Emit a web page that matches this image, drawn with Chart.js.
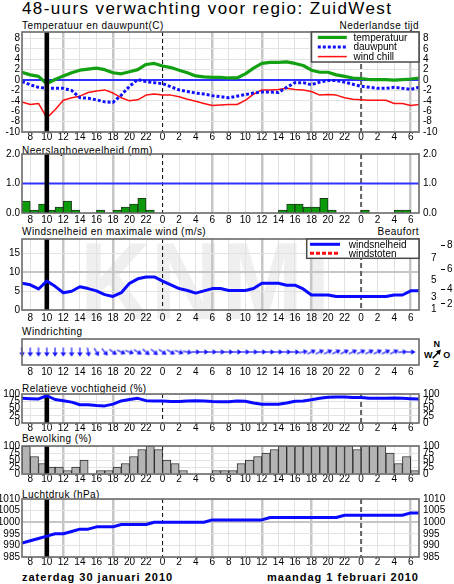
<!DOCTYPE html>
<html>
<head>
<meta charset="utf-8">
<script src="https://cdn.jsdelivr.net/npm/chart.js@4.4.1/dist/chart.umd.min.js"></script>
<style>
  html, body { margin:0; padding:0; background:#fff; }
  body { position:relative; width:454px; height:584px; overflow:hidden; font-family:"Liberation Sans", Arial, sans-serif; color:#000; }
  .lbl { position:absolute; white-space:nowrap; font-size:10px; line-height:10px; letter-spacing:0.45px; }
  .big { font-size:17px; line-height:18px; letter-spacing:1.4px; }
  .date { font-size:11px; line-height:11px; font-weight:bold; letter-spacing:1px; }
  .cmp { position:absolute; width:10px; text-align:center; font-size:9px; line-height:9px; font-weight:bold; }
  #wm { position:absolute; left:80px; top:226px; font:bold 110px "Liberation Sans", Arial, sans-serif; line-height:1; color:#efefef; transform:scaleX(0.89); transform-origin:0 0; white-space:nowrap; }
</style>
</head>
<body>
<div id="wm">KNMI</div>
<div class="lbl big" style="left:22px;top:0px;">48-uurs verwachting voor regio: ZuidWest</div>
<div class="lbl" style="left:22px;top:20.5px;">Temperatuur en dauwpunt(C)</div>
<div class="lbl" style="right:35px;top:20.5px;">Nederlandse tijd</div>
<div class="lbl" style="left:22px;top:146px;">Neerslaghoeveelheid (mm)</div>
<div class="lbl" style="left:22px;top:227px;">Windsnelheid en maximale wind (m/s)</div>
<div class="lbl" style="right:35px;top:227px;">Beaufort</div>
<div class="lbl" style="left:22px;top:326.5px;">Windrichting</div>
<div class="lbl" style="left:22px;top:384px;">Relatieve vochtigheid (%)</div>
<div class="lbl" style="left:22px;top:434px;">Bewolking (%)</div>
<div class="lbl" style="left:22px;top:490px;">Luchtdruk (hPa)</div>
<div class="lbl date" style="left:22px;top:571.5px;">zaterdag 30 januari 2010</div>
<div class="lbl date" style="right:35px;top:571.5px;">maandag 1 februari 2010</div>
<div class="cmp" style="left:431.7px;top:339.5px;">N</div>
<div class="cmp" style="left:423.3px;top:350.5px;">W</div>
<div class="cmp" style="left:441.7px;top:350.5px;">O</div>
<div class="cmp" style="left:431px;top:359.5px;">Z</div>
<svg style="position:absolute;left:430px;top:347px;" width="14" height="14" viewBox="0 0 14 14">
  <line x1="2.7" y1="11.3" x2="9.5" y2="4.3" stroke="#000" stroke-width="1.6"/>
  <polygon points="11,2.5 5.8,4.2 9.6,8" fill="#000"/>
</svg>
<script>
// ---------------- data ----------------
// hours counted from Saturday 30 Jan 2010 00:00 (7 = za 07:00, 24 = zo 00:00, 48 = ma 00:00)
const hourAxis = [7,8,9,10,11,12,13,14,15,16,17,18,19,20,21,22,23,
  24,25,26,27,28,29,30,31,32,33,34,35,36,37,38,39,40,41,42,43,44,45,46,47,
  48,49,50,51,52,53,54,55];
const tickHours = [8,10,12,14,16,18,20,22,24,26,28,30,32,34,36,38,40,42,44,46,48,50,52,54];
const midnightHours = [24, 48];
const nowHour = 10;

const temperature = [1.5,1.0,0.7,-0.7,0.1,0.8,1.4,1.9,2.1,2.3,2.0,1.4,1.2,1.6,2.0,3.0,3.2,
  2.7,2.4,1.9,1.4,0.8,0.6,0.5,0.5,0.4,0.4,1.2,2.3,3.2,3.4,3.4,3.5,3.2,2.8,1.9,1.5,1.5,1.0,0.7,0.4,
  0.3,0.1,0.1,0.1,0.0,0.1,0.2,0.4];
const dewPoint = [-0.3,-0.9,-1.4,-1.6,-1.6,-1.6,-2.0,-3.4,-3.5,-3.8,-4.2,-4.3,-2.9,-1.2,0.1,-0.3,-0.5,
  -0.7,-1.3,-1.9,-2.2,-2.5,-2.7,-3.0,-3.2,-3.4,-3.1,-2.8,-2.5,-2.3,-2.3,-2.4,-1.4,-0.5,-0.5,-0.9,-0.4,-0.1,-0.1,-0.4,-0.8,
  -1.2,-1.4,-1.6,-1.6,-1.4,-1.6,-1.8,-1.4];
const windChill = [-4.2,-4.7,-4.5,-7.3,-5.7,-3.9,-3.4,-3.1,-2.4,-2.1,-1.9,-2.5,-3.4,-4.0,-3.8,-2.9,-2.7,
  -2.9,-2.9,-3.2,-3.7,-4.1,-4.5,-4.9,-4.8,-4.7,-4.7,-3.9,-2.7,-1.9,-1.9,-1.8,-1.6,-1.8,-1.9,-2.2,-2.9,-2.8,-2.9,-3.4,-3.7,
  -3.8,-3.9,-3.9,-3.9,-4.5,-4.5,-4.9,-4.7];
const tempZero = 0;

// hourly amounts, interval starting at hourAxis[i]
const precipitation = [0.4,0.1,0.3,0.1,0.2,0.4,0.1,0,0,0.1,0,0.1,0.2,0.3,0.5,0.1,0,
  0,0,0,0,0,0,0,0,0,0,0,0,0,0,0.1,0.3,0.3,0.2,0.2,0.5,0.1,0,0,0,
  0.1,0,0,0,0.1,0.1,0];
const precipReference = 1.0;

const windSpeed = [7.1,6.7,5.6,7.7,6.3,4.6,5.0,6.2,5.7,5.1,4.1,3.6,4.6,7.1,8.3,8.8,8.8,
  7.7,6.7,5.7,5.2,4.5,5.1,5.7,5.7,5.2,5.2,5.2,5.7,7.1,7.1,7.1,6.6,6.6,5.6,4.0,4.0,4.0,3.6,3.6,3.6,
  3.6,3.6,3.6,3.6,4.0,4.0,5.1,5.1];
const windGust = [];
// direction the wind comes from (degrees), one arrow per hour
const windFromDeg = [355,0,0,0,0,0,0,0,350,330,320,305,295,290,300,310,310,
  305,300,290,280,270,270,270,270,270,270,270,270,270,270,270,270,270,260,245,245,245,245,245,245,
  245,245,245,245,245,265,270];

const humidity = [85,84,83,94,81,77,72,63,63,60,59,65,76,81,85,77,76,
  76,74,74,76,77,76,74,73,73,76,75,69,65,65,65,69,75,76,80,85,89,90,90,88,
  88,85,85,85,86,85,84,83];
const cloudCover = [100,62.5,37.5,25,25,12.5,25,50,0,12.5,12.5,25,37.5,62.5,87.5,100,87.5,
  50,37.5,12.5,0,0,0,12.5,12.5,12.5,37.5,50,62.5,75,87.5,100,100,100,100,100,100,100,100,100,87.5,
  100,100,100,75,37.5,62.5,12.5];
const pressure = [991,992,993,994,995,995,996,997,997,998,998,998,999,999,999,999,1000,
  1000,1000,1000,1000,1000,1000,1001,1001,1001,1001,1001,1001,1001,1002,1002,1002,1002,1002,1002,1002,1002,1002,1003,1003,
  1003,1003,1003,1003,1003,1003,1004,1004];

const tempTicks = [-10,-8,-6,-4,-2,0,2,4,6,8];
const precipTicks = [0,1,2];
const windTicks = [0,5,10,15];
const beaufortLimits = [0.3,1.6,3.4,5.5,8.0,10.8,13.9,17.2];
const beaufortLabels = ['1','2','3','4','5','6','7','8'];
const percentTicks = [0,25,50,75,100];
const pressureTicks = [985,990,995,1000,1005,1010];

// ---------------- layout (plot-area pixel bounds) ----------------
const PANELS = {
  temp:  {top:32,  bottom:132, labelPad:0},
  precip:{top:154, bottom:213, labelPad:2},
  wind:  {top:239, bottom:310, labelPad:3},
  dir:   {top:339, bottom:365, labelPad:2},
  hum:   {top:394, bottom:423, labelPad:0},
  cloud: {top:446, bottom:474, labelPad:0},
  pres:  {top:499, bottom:557, labelPad:0}
};
const PAD_TOP = 10, XAX_H = 14, LEFT_W = 22, RIGHT_W = 35;
const FONT = {family:'"Liberation Sans", Arial, sans-serif', size:10, lineHeight:1};
const LIGHT = '#e2e2e2', MID = '#c6c6c6';

function fixW(w){ return s => { s.width = w; s.paddingTop = 0; s.paddingBottom = 0; }; }
function fixH(h){ return s => { s.height = h; s.paddingLeft = 0; s.paddingRight = 0; }; }

function xScale(pad, showGrid) {
  return {
    type:'linear', min:hourAxis[0], max:hourAxis[hourAxis.length-1], offset:false,
    afterBuildTicks: s => { s.ticks = tickHours.map(v => ({value:v})); },
    afterFit: fixH(XAX_H),
    border:{display:false},
    grid: showGrid ? {
      offset:false, drawTicks:false,
      color: c => { const v = c.tick ? c.tick.value : 1; return v % 24 === 0 ? 'rgba(0,0,0,0)' : (v % 6 === 0 ? MID : LIGHT); },
      lineWidth: c => { const v = c.tick ? c.tick.value : 1; return (v % 6 === 0 && v % 24 !== 0) ? 2.5 : 1; }
    } : {display:false, drawTicks:false, offset:false},
    ticks:{autoSkip:false, maxRotation:0, minRotation:0, padding:pad, color:'#000', font:FONT,
      callback: v => String(v % 24)}
  };
}
function yLeft(min, max, ticks, fmt, grid) {
  return {type:'linear', position:'left', min, max,
    afterBuildTicks: s => { s.ticks = ticks.map(v => ({value:v})); },
    afterFit: fixW(LEFT_W), border:{display:false},
    grid: Object.assign({drawTicks:false}, grid),
    ticks:{autoSkip:false, padding:2, color:'#000', font:FONT, callback:fmt}};
}
function yRight(min, max, ticks, fmt) {
  return {type:'linear', position:'right', min, max,
    afterBuildTicks: s => { s.ticks = ticks.map(v => ({value:v})); },
    afterFit: fixW(RIGHT_W), border:{display:false},
    grid:{drawOnChartArea:false, drawTicks:false},
    ticks:{autoSkip:false, padding:4, color:'#000', font:FONT, callback:fmt}};
}
const plain = v => String(v);
const oneDec = v => v.toFixed(1);
const series = arr => hourAxis.slice(0, arr.length).map((h, i) => ({x:h, y:arr[i]}));
const barSeries = arr => arr.map((v, i) => ({x:hourAxis[i] + 0.5, y: v > 0 ? v : null}));
const flat = v => [{x:hourAxis[0], y:v}, {x:hourAxis[hourAxis.length-1], y:v}];

// ---------------- decoration plugin ----------------
function drawNow(chart) {
  const {ctx, chartArea:a} = chart;
  const px = chart.scales.x.getPixelForValue(nowHour);
  ctx.save(); ctx.fillStyle = '#000';
  ctx.fillRect(px - 2.3, a.top, 4.6, a.bottom - a.top);
  ctx.restore();
}
function drawLegend(chart, L) {
  const {ctx, chartArea:a} = chart;
  const x0 = a.right - L.w, y0 = a.top;
  ctx.save();
  ctx.fillStyle = '#fff'; ctx.fillRect(x0, y0, L.w, L.h);
  ctx.strokeStyle = '#4a4a4a'; ctx.lineWidth = 1.5; ctx.strokeRect(x0, y0, L.w, L.h);
  chart.data.datasets.filter(d => d.inLegend).forEach((d, i) => {
    const y = y0 + L.first + i * L.gap;
    ctx.beginPath(); ctx.setLineDash(d.borderDash || []);
    ctx.strokeStyle = d.borderColor; ctx.lineWidth = d.borderWidth;
    ctx.moveTo(x0 + L.sx, y); ctx.lineTo(x0 + L.sx + L.sw, y); ctx.stroke();
    ctx.setLineDash([]);
    ctx.fillStyle = '#000'; ctx.font = '10px "Liberation Sans", Arial, sans-serif';
    ctx.textBaseline = 'middle'; ctx.textAlign = 'left';
    ctx.fillText(d.label, x0 + L.tx, y + 0.5);
  });
  ctx.restore();
}
const panelDeco = {
  id:'panelDeco',
  beforeDatasetsDraw(chart, args, o) {
    const {ctx, chartArea:a} = chart;
    if (o.midnight) {
      midnightHours.forEach((h, i) => {
        const px = chart.scales.x.getPixelForValue(h);
        ctx.save(); ctx.beginPath();
        ctx.setLineDash(i === 0 ? [4,3] : [5,3]);
        ctx.strokeStyle = i === 0 ? '#000' : '#606060';
        ctx.lineWidth = i === 0 ? 1 : 2;
        ctx.moveTo(px, a.top); ctx.lineTo(px, a.bottom); ctx.stroke();
        ctx.restore();
      });
    }
    if (o.now === 'under') drawNow(chart);
  },
  afterDatasetsDraw(chart, args, o) {
    const {ctx, chartArea:a} = chart;
    if (o.now === 'over') drawNow(chart);
    ctx.save(); ctx.strokeStyle = '#6a6a6a'; ctx.lineWidth = 1.6;
    ctx.strokeRect(a.left, a.top, a.right - a.left, a.bottom - a.top);
    ctx.restore();
    if (o.legend) drawLegend(chart, o.legend);
  }
};

function makeChart(key, config, deco, layoutPad) {
  const P = PANELS[key];
  const h = PAD_TOP + (P.bottom - P.top) + XAX_H;
  const c = document.createElement('canvas');
  c.width = 454; c.height = h;
  c.style.cssText = 'position:absolute;left:0;top:' + (P.top - PAD_TOP) + 'px;width:454px;height:' + h + 'px;';
  document.body.appendChild(c);
  config.options = Object.assign({responsive:false, animation:false, events:[],
    layout:{padding: layoutPad || {top:PAD_TOP, left:0, right:0, bottom:0}}}, config.options);
  config.options.plugins = {legend:{display:false}, tooltip:{enabled:false}, panelDeco:deco};
  config.plugins = [panelDeco];
  return new Chart(c, config);
}
const lineDefaults = {pointRadius:0, tension:0, borderJoinStyle:'round', borderCapStyle:'butt', fill:false};

// ---------------- temperature ----------------
makeChart('temp', {
  type:'line',
  data:{datasets:[
    Object.assign({label:'temperatuur', inLegend:true, data:series(temperature), borderColor:'#13a013', borderWidth:3.2}, lineDefaults),
    Object.assign({label:'dauwpunt', inLegend:true, data:series(dewPoint), borderColor:'#1010ff', borderWidth:3, borderDash:[3,2]}, lineDefaults),
    Object.assign({label:'wind chill', inLegend:true, data:series(windChill), borderColor:'#ff1010', borderWidth:1.5}, lineDefaults),
    Object.assign({label:'0', data:flat(tempZero), borderColor:'#3030ff', borderWidth:2}, lineDefaults)
  ]},
  options:{scales:{
    x:xScale(PANELS.temp.labelPad, true),
    y:yLeft(-10, 9.25, tempTicks, plain, {color:LIGHT}),
    yR:yRight(-10, 9.25, tempTicks, plain)
  }}
}, {midnight:true, now:'over', legend:{w:107.5, h:30, first:5.4, gap:9.6, sx:6.3, sw:29, tx:42}});

// ---------------- precipitation ----------------
makeChart('precip', {
  type:'bar',
  data:{datasets:[
    Object.assign({type:'line', label:'ref', data:flat(precipReference), borderColor:'#3333ff', borderWidth:2}, lineDefaults),
    {type:'bar', label:'neerslag', data:barSeries(precipitation), backgroundColor:'#0a9a0a', borderColor:'#1e3a1e', borderWidth:1,
      borderSkipped:'bottom', categoryPercentage:1, barPercentage:1, grouped:false}
  ]},
  options:{scales:{
    x:xScale(PANELS.precip.labelPad, true),
    y:yLeft(0, 2, precipTicks, oneDec, {display:false}),
    yR:yRight(0, 2, precipTicks, oneDec)
  }}
}, {midnight:true, now:'over'});

// ---------------- wind speed ----------------
const windMax = 18.9;
makeChart('wind', {
  type:'line',
  data:{datasets:[
    Object.assign({label:'windsnelheid', inLegend:true, data:series(windSpeed), borderColor:'#0a0aff', borderWidth:3}, lineDefaults),
    Object.assign({label:'windstoten', inLegend:true, data:series(windGust), borderColor:'#ff1010', borderWidth:3, borderDash:[4,2]}, lineDefaults)
  ]},
  options:{scales:{
    x:xScale(PANELS.wind.labelPad, true),
    y:yLeft(0, windMax, windTicks, plain, {color:c => (c.tick && c.tick.value === 10) ? MID : LIGHT, lineWidth:c => (c.tick && c.tick.value === 10) ? 2 : 1}),
    bftOdd:{type:'linear', position:'right', min:0, max:windMax,
      afterBuildTicks: s => { s.ticks = beaufortLimits.filter((v, i) => i % 2 === 0).map(v => ({value:v})); },
      afterFit: fixW(22), border:{display:false},
      grid:{drawOnChartArea:false, drawTicks:false},
      ticks:{autoSkip:false, padding:12, color:'#000', font:FONT, callback: v => beaufortLabels[beaufortLimits.indexOf(v)]}},
    bftEven:{type:'linear', position:'right', min:0, max:windMax,
      afterBuildTicks: s => { s.ticks = beaufortLimits.filter((v, i) => i % 2 === 1).map(v => ({value:v})); },
      afterFit: fixW(13), border:{display:false},
      grid:{drawOnChartArea:false, drawTicks:true, tickLength:4, tickColor:'#000', tickWidth:1},
      ticks:{autoSkip:false, padding:2, color:'#000', font:FONT, callback: v => beaufortLabels[beaufortLimits.indexOf(v)]}}
  }}
}, {midnight:true, now:'under', legend:{w:112.3, h:19.3, first:5.3, gap:9, sx:3.3, sw:30, tx:42}});

// ---------------- wind direction ----------------
function makeArrow() {
  const c = document.createElement('canvas'); c.width = 10; c.height = 10;
  const g = c.getContext('2d');
  g.strokeStyle = '#1818ff'; g.fillStyle = '#1818ff'; g.lineWidth = 1.2;
  g.beginPath(); g.moveTo(5, 9.5); g.lineTo(5, 3.5); g.stroke();
  g.beginPath(); g.moveTo(5, 0.3); g.lineTo(2.2, 4.6); g.lineTo(7.8, 4.6); g.closePath(); g.fill();
  return c;
}
const arrowImg = makeArrow();
makeChart('dir', {
  type:'scatter',
  data:{datasets:[{label:'windrichting',
    data: hourAxis.slice(0, windFromDeg.length).map(h => ({x:h, y:0})),
    pointStyle:arrowImg, pointRadius:5, pointHoverRadius:5,
    pointRotation: c => (windFromDeg[c.dataIndex] + 180) % 360, clip:false}]},
  options:{scales:{
    x:xScale(PANELS.dir.labelPad, false),
    y:{display:false, min:-1, max:1}
  }}
}, {midnight:false, now:'none'}, {top:PAD_TOP, left:LEFT_W, right:RIGHT_W, bottom:0});

// ---------------- humidity ----------------
makeChart('hum', {
  type:'line',
  data:{datasets:[
    Object.assign({label:'vochtigheid', data:series(humidity), borderColor:'#0a0aff', borderWidth:3}, lineDefaults)
  ]},
  options:{scales:{
    x:xScale(PANELS.hum.labelPad, true),
    y:yLeft(0, 100, percentTicks, plain, {color:LIGHT}),
    yR:yRight(0, 100, percentTicks, plain)
  }}
}, {midnight:true, now:'under'});

// ---------------- clouds ----------------
makeChart('cloud', {
  type:'bar',
  data:{datasets:[
    {label:'bewolking', data:barSeries(cloudCover), backgroundColor:'#b4b4b4', borderColor:'#2e2e2e', borderWidth:1,
      borderSkipped:'bottom', categoryPercentage:1, barPercentage:1, grouped:false}
  ]},
  options:{scales:{
    x:xScale(PANELS.cloud.labelPad, true),
    y:yLeft(0, 100, percentTicks, plain, {color:LIGHT}),
    yR:yRight(0, 100, percentTicks, plain)
  }}
}, {midnight:true, now:'over'});

// ---------------- pressure ----------------
makeChart('pres', {
  type:'line',
  data:{datasets:[
    Object.assign({label:'luchtdruk', data:series(pressure), borderColor:'#0a0aff', borderWidth:3}, lineDefaults)
  ]},
  options:{scales:{
    x:xScale(PANELS.pres.labelPad, true),
    y:yLeft(985, 1010, pressureTicks, plain, {color:c => (c.tick && c.tick.value === 1000) ? MID : LIGHT, lineWidth:c => (c.tick && c.tick.value === 1000) ? 2 : 1}),
    yR:yRight(985, 1010, pressureTicks, plain)
  }}
}, {midnight:true, now:'under'});
</script>
</body>
</html>
